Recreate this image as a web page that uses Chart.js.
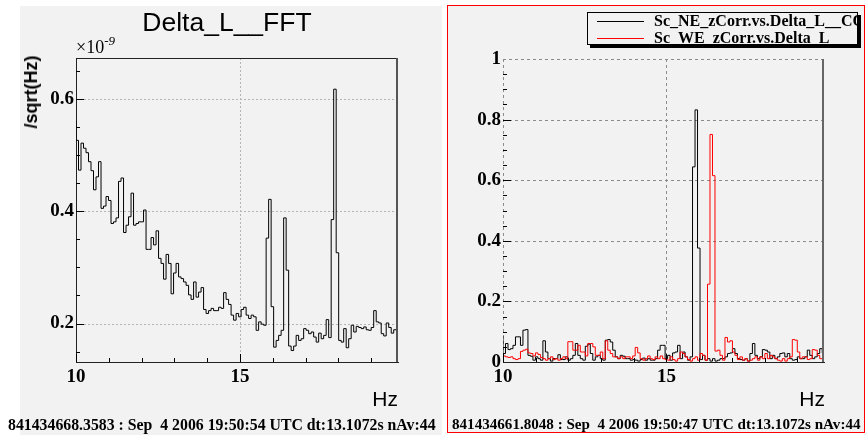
<!DOCTYPE html>
<html>
<head>
<meta charset="utf-8">
<script src="https://cdn.jsdelivr.net/npm/chart.js@4.4.1/dist/chart.umd.min.js"></script>
<style>
  body { margin: 0; background: #fff; width: 866px; height: 435px; position: relative; overflow: hidden; }
  .pad { position: absolute; background: #f2f2f2; }
  #padL { left: 20px; top: 6px; width: 422px; height: 429px; }
  #padR { left: 447px; top: 5px; width: 418px; height: 428px; border: 1px solid #f00; box-sizing: border-box; }
  canvas { position: absolute; left: 0; top: 0; }
  .mark { position: absolute; }
  .txt { position: absolute; white-space: nowrap; line-height: 1; color: #000; }
  .title { font-family: "Liberation Sans", Arial, sans-serif; font-size: 26.5px; left: 127px; width: 200px; top: 9px; text-align: center; }
  .expo { font-family: "Liberation Serif", serif; font-size: 18px; left: 76px; top: 38px; }
  .expo sup { font-size: 13px; font-style: italic; vertical-align: 0; position: relative; top: -8px; }
  .ytitle { font-family: "Liberation Sans", Arial, sans-serif; font-weight: bold; font-size: 18px; left: 31px; top: 92px; transform: translate(-50%, -50%) rotate(-90deg); }
  .hz { font-family: "Liberation Sans", Arial, sans-serif; font-size: 21px; top: 388px; }
  .foot { font-family: "Liberation Serif", serif; font-weight: bold; top: 417px; }
  #legend { position: absolute; left: 587px; top: 12px; width: 271px; height: 33px; border: 1px solid #000; background: #f2f2f2; box-shadow: 3px 3px 0 #000; overflow: hidden; box-sizing: border-box; }
  #legend .row { position: absolute; left: 0; height: 16px; width: 400px; font-family: "Liberation Serif", serif; font-weight: bold; font-size: 16px; line-height: 16px; white-space: nowrap; }
  #legend .row i { position: absolute; left: 9px; top: 8px; width: 47px; height: 1px; }
  #legend .row span { position: absolute; left: 66px; top: 0; }
</style>
</head>
<body>
<div class="pad" id="padL"></div>
<div class="pad" id="padR"></div>
<canvas id="left" width="866" height="435"></canvas>
<canvas id="right" width="866" height="435"></canvas>
<div id="frames"></div>

<div class="txt title">Delta_L__FFT</div>
<div class="txt expo">&times;10<sup>-9</sup></div>
<div class="txt ytitle">/sqrt(Hz)</div>
<div class="txt hz" style="right:468px">Hz</div>
<div class="txt hz" style="right:41px">Hz</div>
<div class="txt foot" style="left:8px;font-size:15.8px">841434668.3583 : Sep&nbsp; 4 2006 19:50:54 UTC dt:13.1072s nAv:44</div>
<div class="txt foot" style="left:452px;font-size:15.1px">841434661.8048 : Sep&nbsp; 4 2006 19:50:47 UTC dt:13.1072s nAv:44</div>
<div id="legend">
  <div class="row" style="top:0px"><i style="background:#000"></i><span>Sc_NE_zCorr.vs.Delta_L__COH</span></div>
  <div class="row" style="top:17px"><i style="background:#f00"></i><span>Sc_WE_zCorr.vs.Delta_L</span></div>
</div>

<script>
// FFT bins: 1/13.1072 s resolution, first bin starting at 10 Hz
const binWidth = 1 / 13.1072;
const freqMin = 10;
const freqMax = 19.82;
const xTicks = [10, 15];
const xMinorTicks = [11, 12, 13, 14, 16, 17, 18, 19];

// amplitude spectral density of Delta_L, in units of 1e-9 /sqrt(Hz)
const deltaLAsd = [
  0.561, 0.526, 0.473, 0.521, 0.512, 0.504, 0.488, 0.472, 0.438, 0.461,
  0.488, 0.405, 0.409, 0.426, 0.419, 0.378, 0.381, 0.388, 0.453, 0.459,
  0.362, 0.375, 0.390, 0.432, 0.375, 0.378, 0.381, 0.381, 0.402, 0.332,
  0.332, 0.353, 0.340, 0.365, 0.316, 0.307, 0.279, 0.323, 0.307, 0.253,
  0.290, 0.307, 0.283, 0.280, 0.274, 0.268, 0.251, 0.243, 0.274, 0.247,
  0.256, 0.264, 0.225, 0.218, 0.223, 0.227, 0.223, 0.223, 0.229, 0.227,
  0.255, 0.243, 0.234, 0.215, 0.206, 0.218, 0.212, 0.225, 0.229, 0.215,
  0.209, 0.215, 0.212, 0.188, 0.203, 0.199, 0.197, 0.352, 0.421, 0.230,
  0.158, 0.170, 0.179, 0.188, 0.388, 0.295, 0.160, 0.152, 0.160, 0.179,
  0.170, 0.173, 0.191, 0.188, 0.182, 0.185, 0.176, 0.167, 0.183, 0.173,
  0.179, 0.207, 0.175, 0.385, 0.617, 0.326, 0.170, 0.167, 0.191, 0.157,
  0.173, 0.197, 0.185, 0.195, 0.193, 0.191, 0.194, 0.189, 0.188, 0.193,
  0.223, 0.203, 0.201, 0.182, 0.178, 0.201, 0.193, 0.183, 0.189, 0.188
];
const leftYTicks = [0.2, 0.4, 0.6];
const leftYMinor = [0.15, 0.25, 0.3, 0.35, 0.45, 0.5, 0.55, 0.65];

// coherence of the two channels with Delta_L
const cohNE = [
  0.085, 0.028, 0.061, 0.041, 0.044, 0.055, 0.083, 0.083, 0.055, 0.105,
  0.107, 0.022, 0.019, 0.006, 0.017, 0.011, 0.006, 0.070, 0.033, 0.011,
  0.003, 0.011, 0.011, 0.024, 0.008, 0.008, 0.017, 0.006, 0.011, 0.022,
  0.061, 0.022, 0.011, 0.006, 0.052, 0.059, 0.028, 0.006, 0.017, 0.022,
  0.011, 0.006, 0.072, 0.074, 0.066, 0.039, 0.017, 0.011, 0.022, 0.019,
  0.011, 0.011, 0.006, 0.008, 0.006, 0.003, 0.008, 0.013, 0.006, 0.011,
  0.006, 0.006, 0.011, 0.039, 0.055, 0.055, 0.011, 0.022, 0.006, 0.030,
  0.033, 0.055, 0.011, 0.033, 0.017, 0.006, 0.017, 0.644, 0.832, 0.376,
  0.008, 0.022, 0.006, 0.011, 0.003, 0.011, 0.003, 0.006, 0.011, 0.011,
  0.017, 0.028, 0.030, 0.044, 0.028, 0.011, 0.008, 0.006, 0.011, 0.003,
  0.028, 0.061, 0.022, 0.011, 0.017, 0.041, 0.039, 0.033, 0.011, 0.022,
  0.011, 0.017, 0.028, 0.030, 0.017, 0.028, 0.011, 0.006, 0.008, 0.017,
  0.011, 0.011, 0.017, 0.039, 0.022, 0.011, 0.017, 0.028, 0.044, 0.030
];
const cohWE = [
  0.017, 0.020, 0.017, 0.015, 0.017, 0.011, 0.008, 0.011, 0.035, 0.039,
  0.042, 0.030, 0.028, 0.020, 0.030, 0.025, 0.015, 0.011, 0.006, 0.011,
  0.017, 0.008, 0.011, 0.006, 0.011, 0.017, 0.011, 0.067, 0.067, 0.039,
  0.039, 0.055, 0.033, 0.033, 0.020, 0.061, 0.061, 0.050, 0.022, 0.022,
  0.033, 0.011, 0.070, 0.039, 0.028, 0.017, 0.017, 0.011, 0.017, 0.011,
  0.017, 0.017, 0.011, 0.020, 0.048, 0.030, 0.011, 0.006, 0.011, 0.020,
  0.011, 0.008, 0.017, 0.011, 0.020, 0.011, 0.008, 0.006, 0.017, 0.008,
  0.003, 0.011, 0.033, 0.028, 0.017, 0.008, 0.003, 0.011, 0.017, 0.006,
  0.028, 0.022, 0.006, 0.257, 0.751, 0.615, 0.036, 0.039, 0.022, 0.006,
  0.081, 0.066, 0.070, 0.033, 0.022, 0.008, 0.017, 0.006, 0.011, 0.003,
  0.006, 0.011, 0.017, 0.006, 0.017, 0.011, 0.028, 0.011, 0.022, 0.017,
  0.011, 0.006, 0.003, 0.011, 0.003, 0.011, 0.017, 0.074, 0.072, 0.033,
  0.011, 0.017, 0.017, 0.008, 0.011, 0.041, 0.039, 0.022, 0.011, 0.011
];
const rightYTicks = [0, 0.2, 0.4, 0.6, 0.8, 1];
const rightYMinor = [0.05, 0.1, 0.15, 0.25, 0.3, 0.35, 0.45, 0.5, 0.55, 0.65, 0.7, 0.75, 0.85, 0.9, 0.95];

// histogram outline: one point per bin edge, stepped
function histPoints(values) {
  const pts = values.map((v, i) => ({ x: freqMin + i * binWidth, y: v }));
  pts.push({ x: freqMin + values.length * binWidth, y: values[values.length - 1] });
  return pts;
}

// dashed grid drawn under the histograms
function gridPlugin(cfg) {
  return {
    id: 'rootGrid',
    beforeDatasetsDraw(chart) {
      const { ctx, chartArea: a, scales: { x, y } } = chart;
      ctx.save();
      ctx.strokeStyle = cfg.gridColor;
      ctx.lineWidth = 1;
      ctx.setLineDash(cfg.gridDash);
      ctx.beginPath();
      cfg.xGrid.forEach(v => {
        const px = Math.round(x.getPixelForValue(v)) + 0.5;
        ctx.moveTo(px, a.top); ctx.lineTo(px, a.bottom);
      });
      cfg.yGrid.forEach(v => {
        const py = Math.round(y.getPixelForValue(v)) + 0.5;
        ctx.moveTo(a.left, py); ctx.lineTo(a.right, py);
      });
      ctx.stroke();
      ctx.restore();
    }
  };
}

// top/right frame edges and inner tick marks, placed from the chart's scales
function addFrame(chart, cfg) {
  const host = document.getElementById('frames');
  const box = (l, t, w, h, bg) => {
    const d = document.createElement('div');
    d.className = 'mark';
    d.style.cssText = `left:${l}px;top:${t}px;width:${w}px;height:${h}px;background:${bg}`;
    host.appendChild(d);
  };
  const a = chart.chartArea, x = chart.scales.x, y = chart.scales.y;
  const L = Math.round(a.left), R = Math.round(a.right), T = Math.round(a.top), B = Math.round(a.bottom);
  const f = cfg.frame;
  if (f.top) box(L, T, R - L, f.top.width || 1, f.top.color);
  if (f.right) box(R - (f.right.width || 1), T, f.right.width || 1, B - T, f.right.color);
  xTicks.concat(xMinorTicks).forEach(v => {
    const px = Math.round(x.getPixelForValue(v));
    const len = xTicks.includes(v) ? 8 : 4;
    box(px, B - len, 1, len, cfg.tickColor);
  });
  cfg.yMajor.concat(cfg.yMinor).forEach(v => {
    const py = Math.round(y.getPixelForValue(v));
    const len = cfg.yMajor.includes(v) ? 8 : 4;
    box(L, py, len, 1, cfg.tickColor);
  });
}

const tickFont = { family: 'Liberation Serif', weight: 'bold', size: 19 };

function makePanel(id, datasets, yMin, yMax, yTicks, padding, yWidth, frameCfg) {
  const chart = new Chart(document.getElementById(id), {
    type: 'line',
    data: { datasets },
    options: {
      responsive: false,
      animation: false,
      devicePixelRatio: 1,
      layout: { padding },
      plugins: { legend: { display: false }, tooltip: { enabled: false } },
      elements: { point: { radius: 0 }, line: { borderWidth: 1, tension: 0 } },
      scales: {
        x: {
          type: 'linear', min: freqMin, max: freqMax,
          grid: { display: false, drawTicks: false },
          border: { display: true, color: '#222', width: 1 },
          afterBuildTicks: s => { s.ticks = xTicks.map(v => ({ value: v })); },
          afterFit: s => { s.height = 73; },
          ticks: { color: '#000', font: tickFont, padding: 4, maxRotation: 0 }
        },
        y: {
          min: yMin, max: yMax,
          grid: { display: false, drawTicks: false },
          border: { display: frameCfg.leftBorder, color: '#222', width: 1 },
          afterBuildTicks: s => { s.ticks = yTicks.map(v => ({ value: v })); },
          afterFit: s => { s.width = yWidth; },
          ticks: { color: '#000', font: tickFont, padding: 2, callback: v => String(+v.toFixed(1)) }
        }
      }
    },
    plugins: [gridPlugin(frameCfg)]
  });
  addFrame(chart, frameCfg);
  return chart;
}

// left: Delta_L amplitude spectrum
makePanel('left', [{
  data: histPoints(deltaLAsd), stepped: 'after', borderColor: '#000', fill: false
}], 0.1316, 0.6725, leftYTicks, { left: 0, top: 58, right: 468, bottom: 0 }, 76, {
  gridColor: '#b4b4b4', gridDash: [2, 2], leftBorder: true,
  xGrid: [15], yGrid: leftYTicks,
  yMajor: leftYTicks, yMinor: leftYMinor, tickColor: '#000',
  frame: { top: { color: '#222' }, right: { color: '#555', width: 2 } }
});

// right: coherence of NE and WE channels
makePanel('right', [
  { data: histPoints(cohNE), stepped: 'after', borderColor: '#000', fill: false, order: 1 },
  { data: histPoints(cohWE), stepped: 'after', borderColor: '#ff0000', fill: false, order: 0 }
], 0, 1, rightYTicks, { left: 443, top: 59, right: 42, bottom: 0 }, 60, {
  gridColor: '#8c8c8c', gridDash: [3, 3], leftBorder: false,
  xGrid: [10, 15], yGrid: [0.2, 0.4, 0.6, 0.8, 1],
  yMajor: [0.2, 0.4, 0.6, 0.8], yMinor: rightYMinor, tickColor: '#000',
  frame: { right: { color: '#666', width: 2 } }
});
</script>
</body>
</html>
